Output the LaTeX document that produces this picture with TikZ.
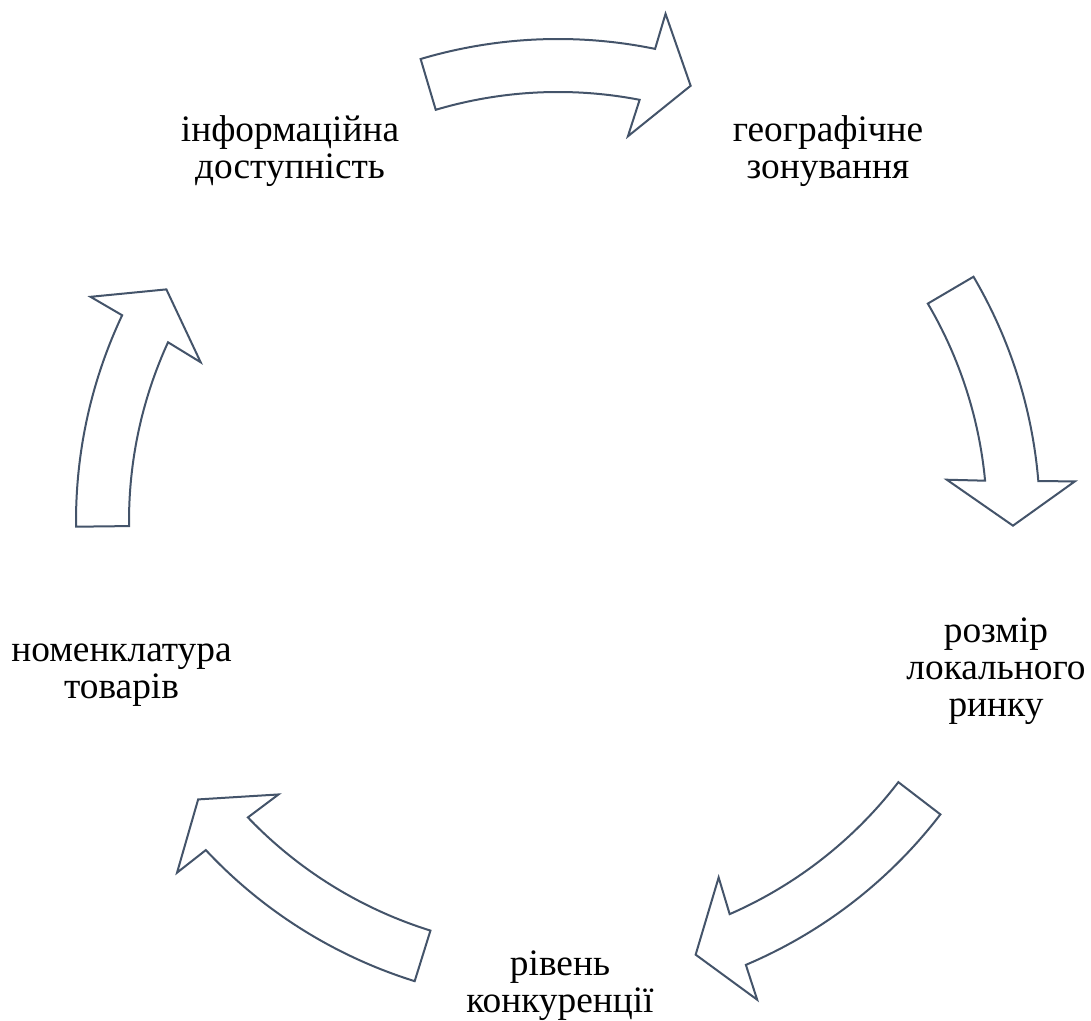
\documentclass[tikz,border=0pt]{standalone}
\usepackage{fontspec}
\setmainfont{Liberation Serif}
\definecolor{edge}{HTML}{44546A}
\tikzset{
  arrowbox/.style={draw=edge, fill=white, line width=1.5pt, line join=miter},
  label/.style={align=center, anchor=base, inner sep=0pt, font=\fontsize{28}{27.75}\selectfont, text=black},
}
% curved block arrow on the common circle around (C): tail angle #2, tip angle #3
\newcommand\cyclearrow[3]{%
  \draw[arrowbox] ([shift={(#2:482)}]C)
      arc[start angle=#2, end angle={#3+5.33}, radius=482]
    -- ([shift={({#3+4.98}:518.5)}]C)
    -- ([shift={(#3:455)}]C) coordinate (#1)
    -- ([shift={({#3+6.65}:391)}]C)
    -- ([shift={({#3+5.98}:429)}]C)
      arc[start angle={#3+5.98}, end angle=#2, radius=429]
    -- cycle;}
\begin{document}
\begin{tikzpicture}[x=0.75pt, y=0.75pt]
  \useasboundingbox (0,0) rectangle (1091,1020);
  \coordinate (C) at (558,499);

  % stage labels (anchored at the baseline of the last line)
  \node[label] (info)  at (290,841)   {інформаційна\\доступність};
  \node[label] (geo)   at (828,841)   {географічне\\зонування};
  \node[label] (size)  at (996,303.3) {розмір\\локального\\ринку};
  \node[label] (comp)  at (560,7.3)   {рівень\\конкуренції};
  \node[label] (range) at (121.5,321) {номенклатура\\товарів};

  % arrows between the stages
  \cyclearrow{a1}{106.56}{73.05}
  \cyclearrow{a2}{30.45}{-0.59}
  \cyclearrow{a3}{-37.5}{-72.39}
  \cyclearrow{a4}{-107.3}{-142.27}
  \cyclearrow{a5}{180.68}{149.4}
\end{tikzpicture}
\end{document}
